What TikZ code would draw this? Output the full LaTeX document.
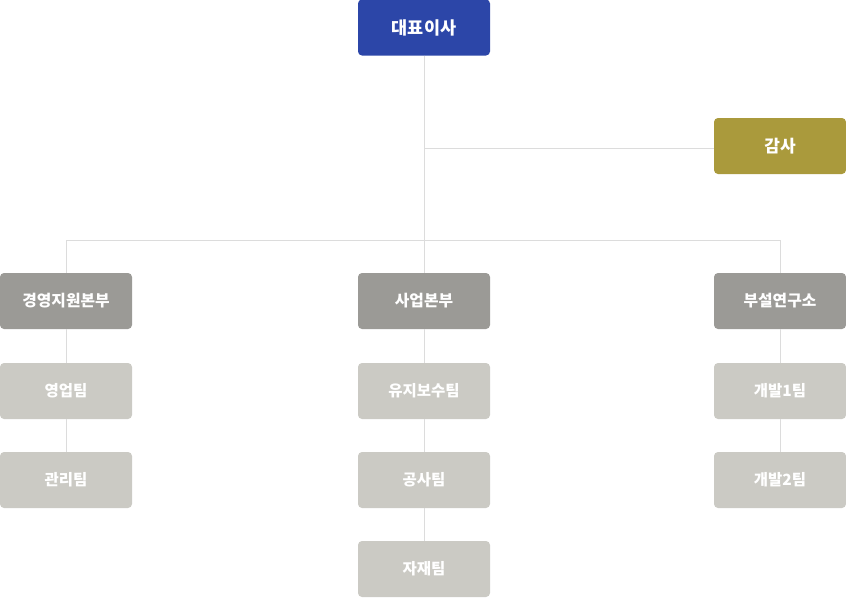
\documentclass[tikz,border=0pt]{standalone}
\usepackage{fontspec}
\newfontfamily\kr{Noto Sans CJK KR}
\definecolor{ceoblue}{HTML}{2C46A8}
\definecolor{auditgold}{HTML}{AA9A3C}
\definecolor{deptgray}{HTML}{9B9A96}
\definecolor{teamgray}{HTML}{CBCAC4}
\definecolor{linegray}{HTML}{DCDCDC}
\tikzset{
  box/.style={rectangle, rounded corners=4pt, minimum width=132pt, minimum height=56pt, inner sep=0pt, text=white, font=\kr\bfseries\fontsize{15.8pt}{18pt}\selectfont},
  ceo/.style={box, fill=ceoblue, font=\kr\bfseries\fontsize{17.5pt}{20pt}\selectfont},
  audit/.style={box, fill=auditgold, font=\kr\bfseries\fontsize{17pt}{20pt}\selectfont},
  dept/.style={box, fill=deptgray},
  team/.style={box, fill=teamgray, font=\kr\bfseries\fontsize{15.5pt}{18pt}\selectfont},
  link/.style={draw=linegray, line width=1pt}
}
\begin{document}
\begin{tikzpicture}[x=1pt,y=-1pt]
\useasboundingbox (0,0) rectangle (846,598);
\node[ceo] (ceo) at (424,27.5) {대표이사};
\node[audit] (audit) at (780,146) {감사};
\node[dept] (d1) at (66,301) {경영지원본부};
\node[dept] (d2) at (424,301) {사업본부};
\node[dept] (d3) at (780,301) {부설연구소};
\node[team] (t11) at (66,391) {영업팀};
\node[team] (t12) at (66,480) {관리팀};
\node[team] (t21) at (424,391) {유지보수팀};
\node[team] (t22) at (424,480) {공사팀};
\node[team] (t23) at (424,569) {자재팀};
\node[team] (t31) at (780,391) {개발1팀};
\node[team] (t32) at (780,480) {개발2팀};
\coordinate (bus) at (424,240);
\coordinate (auditj) at (424,148);
\draw[link] (ceo.south) -- (bus);
\draw[link] (auditj) -- (audit.west |- auditj);
\draw[link] (bus) -- (d2.north);
\draw[link] (bus) -| (d1.north);
\draw[link] (bus) -| (d3.north);
\draw[link] (d1) -- (t11) (t11) -- (t12);
\draw[link] (d2) -- (t21) (t21) -- (t22) (t22) -- (t23);
\draw[link] (d3) -- (t31) (t31) -- (t32);
\end{tikzpicture}
\end{document}
